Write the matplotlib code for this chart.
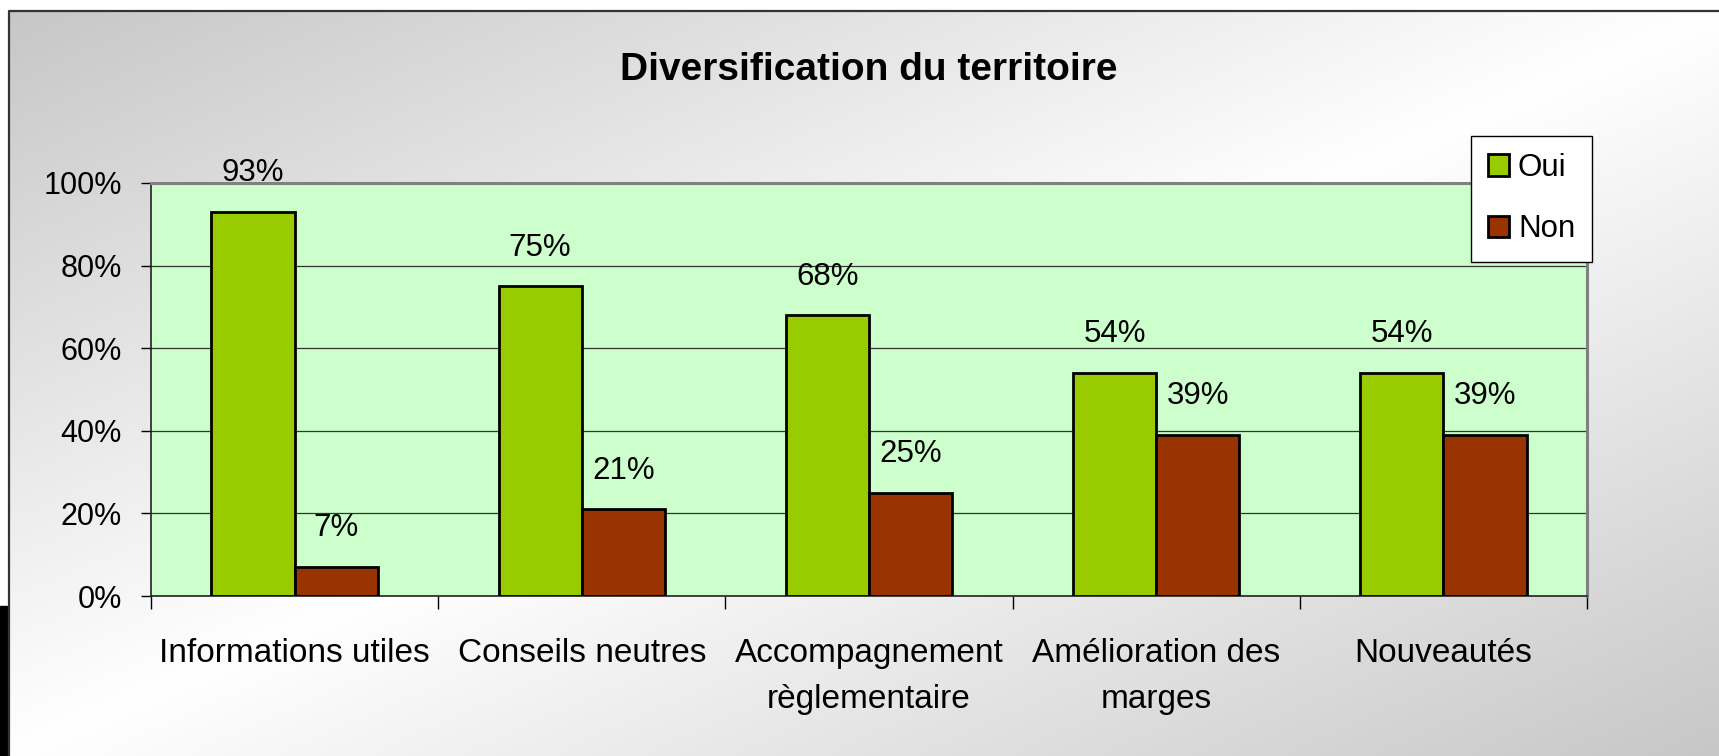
import numpy as np
import matplotlib
matplotlib.use("Agg")
import matplotlib.pyplot as plt
from matplotlib.lines import Line2D
from matplotlib.patches import Rectangle

plt.rcParams['font.family'] = ['Liberation Sans', 'DejaVu Sans']

# data
categories = ["Informations utiles", "Conseils neutres", "Accompagnement\nrèglementaire",
              "Amélioration des\nmarges", "Nouveautés"]
oui = [0.93, 0.75, 0.68, 0.54, 0.54]
non = [0.07, 0.21, 0.25, 0.39, 0.39]
series_names = ["Oui", "Non"]
yticks = [0, 0.2, 0.4, 0.6, 0.8, 1.0]
ytick_labels = ["0%", "20%", "40%", "60%", "80%", "100%"]

W, H = 1719, 756
fig = plt.figure(figsize=(W / 100, H / 100), dpi=100)
fig.patch.set_facecolor("white")

# gradient background of the chart area (gray corners, white diagonal)
bg = fig.add_axes([0, 0, 1, 1], zorder=0)
gx, gy = np.meshgrid(np.linspace(0, 1, 300), np.linspace(0, 1, 150))
t = (gx + gy) / 2
v = 1 - np.abs(2 * t - 1)
g = 0.78 + 0.22 * v
img = np.dstack([g, g, g])
x0, y0 = 9 / W, 11 / H
bg.imshow(img, extent=[x0, 1, 1, y0], aspect="auto", interpolation="bilinear")
bg.set_xlim(0, 1)
bg.set_ylim(1, 0)
bg.axis("off")

# frame lines and slide decoration
fig.add_artist(Line2D([x0, x0, 1], [0, 1 - y0, 1 - y0], transform=fig.transFigure,
                      color="#333333", lw=1.6))
fig.add_artist(Rectangle((0, 0), 7 / W, 150 / H, transform=fig.transFigure,
                         color="black", zorder=1))

ax = fig.add_axes([151 / W, 1 - 596 / H, 1436 / W, 413 / H], zorder=2)
ax.set_facecolor("#CCFFCC")

x = np.arange(len(categories))
w = 0.29
b1 = ax.bar(x - w / 2, oui, w, color="#99CC00", edgecolor="black", linewidth=2,
            label=series_names[0], zorder=3)
b2 = ax.bar(x + w / 2, non, w, color="#993300", edgecolor="black", linewidth=2,
            label=series_names[1], zorder=3)
ax.bar_label(b1, labels=[f"{v * 100:.0f}%" for v in oui], padding=17, fontsize=22.5)
ax.bar_label(b2, labels=[f"{v * 100:.0f}%" for v in non], padding=17, fontsize=22.5)

ax.set_xlim(-0.5, len(categories) - 0.5)
ax.set_ylim(0, 1)
ax.set_yticks(yticks, ytick_labels, fontsize=22)
ax.set_xticks(x, categories, fontsize=24, linespacing=1.65)
ax.set_xticks(np.arange(-0.5, len(categories)), minor=True)
ax.tick_params(axis="x", which="major", length=0, pad=30)
ax.tick_params(axis="x", which="minor", length=9, width=1, direction="out")
ax.tick_params(axis="y", length=7, width=1, pad=14)
ax.grid(axis="y", color="#333333", lw=0.9, zorder=1)
ax.set_axisbelow(True)

for s in ["left", "bottom"]:
    ax.spines[s].set_color("#222222")
    ax.spines[s].set_linewidth(1.2)
for s in ["top", "right"]:
    ax.spines[s].set_color("#808080")
    ax.spines[s].set_linewidth(2.2)

fig.text(869 / W, 1 - 70 / H, "Diversification du territoire", ha="center", va="center",
         fontsize=28, fontweight="bold")

leg = fig.legend(handles=[b1, b2], loc="upper left", bbox_to_anchor=(1471 / W, 1 - 136 / H),
                 fontsize=22.5, frameon=True, fancybox=False, framealpha=1,
                 edgecolor="black", handlelength=0.65, handleheight=0.7,
                 handletextpad=0.3, labelspacing=1.0, borderpad=0.55, borderaxespad=0)
leg.get_frame().set_linewidth(1)
leg.set_zorder(5)

fig.savefig("out.png", dpi=100)
